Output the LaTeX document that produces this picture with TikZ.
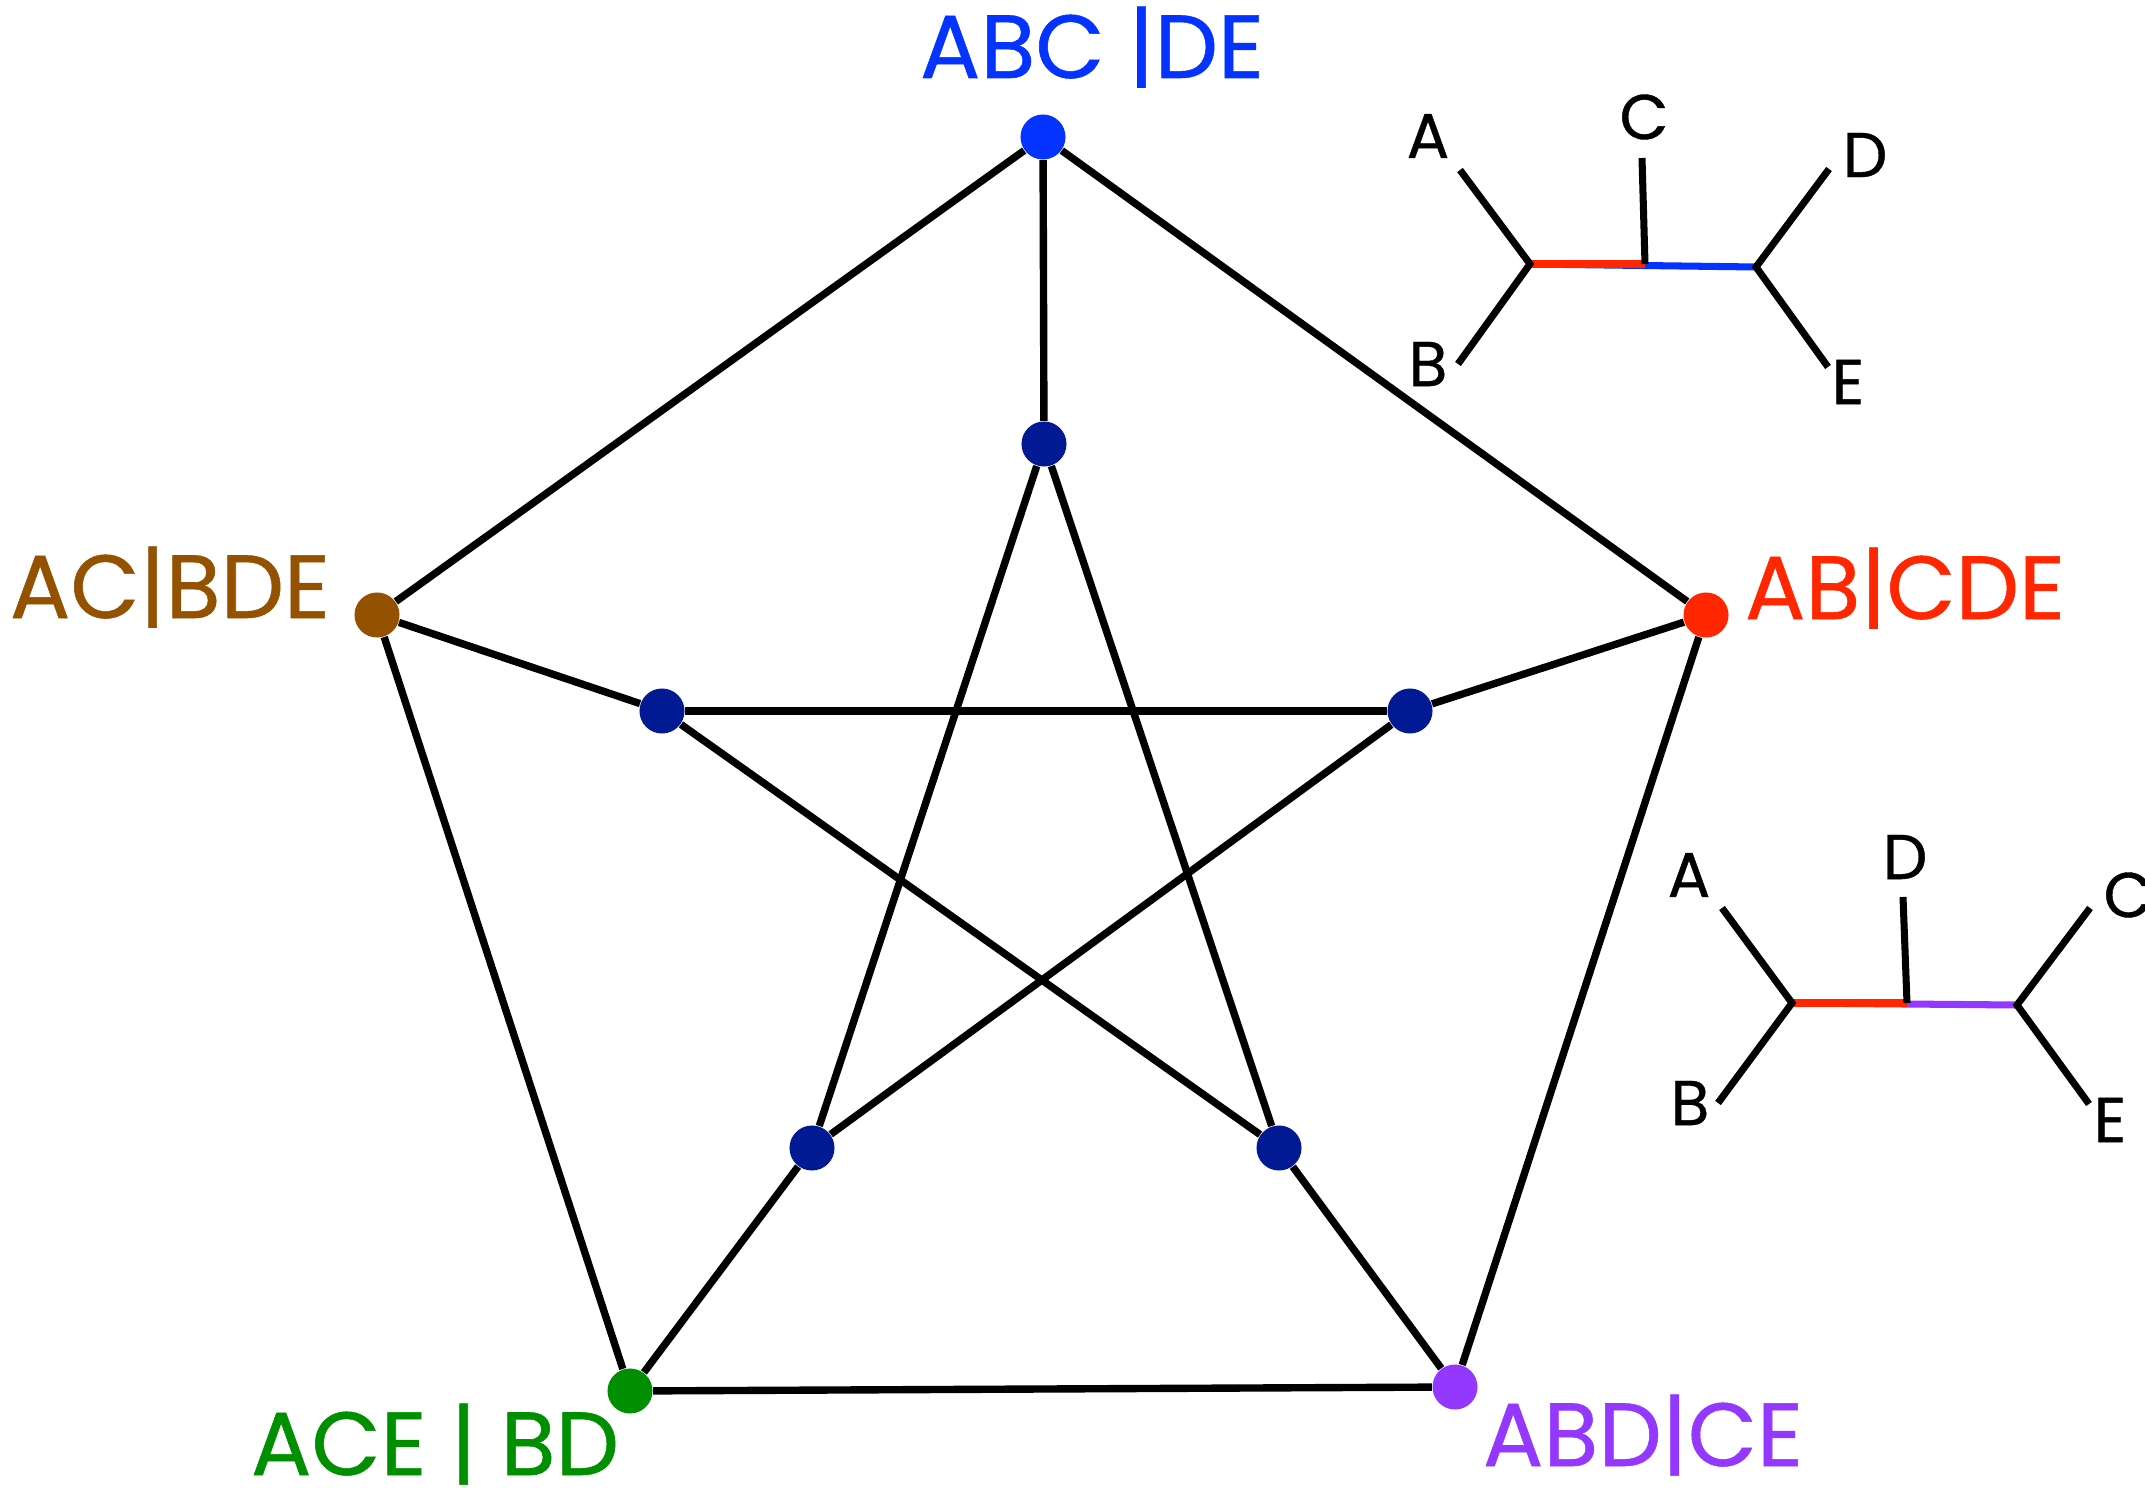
\documentclass[tikz,border=0pt]{standalone}
\usepackage{fontspec}
\setmainfont{Poppins}[FakeBold=0.6]
\usepackage{xcolor}
\usetikzlibrary{positioning}

\definecolor{blueberry}{RGB}{4,51,255}
\definecolor{maraschino}{RGB}{255,38,0}
\definecolor{mocha}{RGB}{148,82,0}
\definecolor{clover}{RGB}{0,143,0}
\definecolor{grape}{RGB}{148,55,255}
\definecolor{midnight}{RGB}{1,25,147}

\begin{document}
\begin{tikzpicture}[
  x=0.01cm, y=-0.01cm,
  vertex/.style={circle, fill=#1, inner sep=0pt, minimum size=0.45cm},
  vertex/.default=midnight,
  split/.style={font=\fontsize{25.5}{28}\selectfont, text=#1, anchor=base, inner sep=0pt},
  taxon/.style={font=\fontsize{18}{20}\selectfont, inner sep=0pt},
  edge/.style={line width=2.1pt},
  branch/.style={line width=2pt}
]
\useasboundingbox (0,0) rectangle (2145,1488);

% outer vertices
\node[vertex=blueberry] (abc) at (1043,137) {};
\node[vertex=maraschino] (ab) at (1706,615) {};
\node[vertex=mocha] (ac) at (377,615) {};
\node[vertex=clover] (ace) at (630,1391) {};
\node[vertex=grape] (abd) at (1455,1387) {};

% inner vertices
\node[vertex] (inTop) at (1044,444) {};
\node[vertex] (inLeft) at (662,711) {};
\node[vertex] (inRight) at (1410,711) {};
\node[vertex] (inBotL) at (812,1148) {};
\node[vertex] (inBotR) at (1279,1148) {};

% split labels
\node[split=blueberry] (abcLab) at (1092,78) {ABC |DE};
\node[split=maraschino] (abLab) at (1905,619) {AB|CDE};
\node[split=mocha] (acLab) at (170,618) {AC|BDE};
\node[split=clover] (aceLab) at (435,1475) {ACE | BD};
\node[split=grape] (abdLab) at (1643,1466) {ABD|CE};

% outer cycle and spokes
\draw[edge] (abc) -- (ab) -- (abd) -- (ace) -- (ac) -- (abc);
\foreach \a/\b in {abc/inTop, ab/inRight, ac/inLeft, ace/inBotL, abd/inBotR}
  \draw[edge] (\a) -- (\b);

% inner star
\foreach \a/\b in {inTop/inBotL, inTop/inBotR, inLeft/inRight, inLeft/inBotR, inRight/inBotL}
  \draw[edge] (\a) -- (\b);

% tree for ABC|DE
\coordinate (t1l) at (1530,264);
\coordinate (t1c) at (1645,264);
\coordinate (t1r) at (1756,267);
\coordinate (t1a) at (1460,170);
\coordinate (t1b) at (1458,364);
\coordinate (t1ct) at (1642,158);
\coordinate (t1d) at (1829,169);
\coordinate (t1e) at (1828,367);
\draw[branch, blueberry] (t1l) -- (t1r);
\draw[branch, maraschino] (t1l) -- (t1c);
\draw[branch] (t1a) -- (t1l) -- (t1b);
\draw[branch] (t1d) -- (t1r) -- (t1e);
\draw[branch] (t1ct) -- (t1c);
\node[taxon] (t1A) at (1428,136) {A};
\node[taxon] (t1B) at (1428,364) {B};
\node[taxon] (t1C) at (1644,117) {C};
\node[taxon] (t1D) at (1865,155) {D};
\node[taxon] (t1E) at (1848,382) {E};

% tree for ABD|CE
\coordinate (t2l) at (1792,1003);
\coordinate (t2d) at (1907,1003);
\coordinate (t2r) at (2017,1005);
\coordinate (t2a) at (1722,908);
\coordinate (t2b) at (1718,1103);
\coordinate (t2dt) at (1903,897);
\coordinate (t2c) at (2090,908);
\coordinate (t2e) at (2089,1104);
\draw[branch, grape] (t2l) -- (t2r);
\draw[branch, maraschino] (t2l) -- (t2d);
\draw[branch] (t2a) -- (t2l) -- (t2b);
\draw[branch] (t2c) -- (t2r) -- (t2e);
\draw[branch] (t2dt) -- (t2d);
\node[taxon] (t2A) at (1689,875) {A};
\node[taxon] (t2B) at (1690,1103) {B};
\node[taxon] (t2D) at (1905,857) {D};
\node[taxon] (t2C) at (2128,895) {C};
\node[taxon] (t2E) at (2110,1120) {E};

\end{tikzpicture}
\end{document}
